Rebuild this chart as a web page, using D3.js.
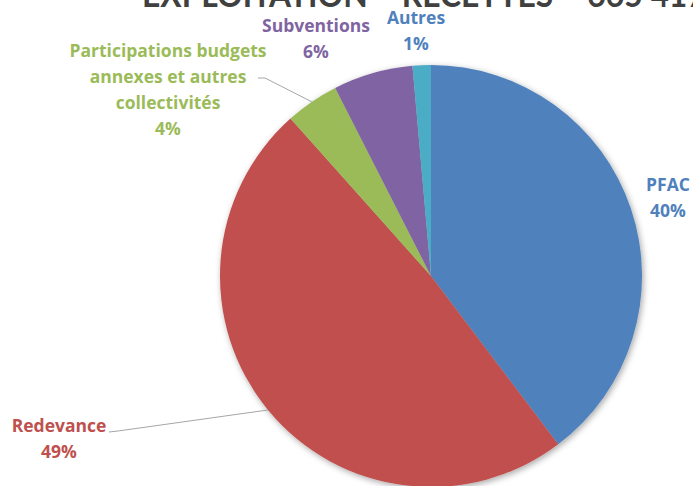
<!DOCTYPE html>
<html><head><meta charset="utf-8">
<script src="https://cdn.jsdelivr.net/npm/d3@7"></script>
<style>html,body{margin:0;padding:0;background:#fff;overflow:hidden}</style>
</head><body>
<svg id="c" width="693" height="486"></svg>
<script>
// ---- data ----
const categories = ["PFAC", "Redevance", "Participations budgets annexes et autres collectivités", "Subventions", "Autres"];
const values = [39.7, 48.7, 4.1, 6.1, 1.4];
const percentLabels = ["40%", "49%", "4%", "6%", "1%"];
const labelLines = [["PFAC"], ["Redevance"], ["Participations budgets", "annexes et autres", "collectivités"], ["Subventions"], ["Autres"]];
const titleText = "EXPLOITATION – RECETTES = 665 417 €";

// ---- style / layout ----
const colors = ["#4F81BD", "#C0504D", "#9BBB59", "#8064A2", "#4BACC6"];
const labelColors = ["#4F81BD", "#C0504D", "#9BBB59", "#8064A2", "#4F81BD"];
const cx = 431, cy = 276, R = 211;
// label centre offsets relative to pie centre (first line centre)
const labelPos = [[237, -91], [-372, 150], [-263, -225], [-115, -250], [-15, -258]];
const lineH = 26;
// leader lines: [elbow offset, end offset] relative to centre, or null
const leaders = [null, [[-313, 155], [-322, 156]], [[-166, -198], [-173, -198]], null, null];
const labelFont = "'Open Sans', 'Noto Sans', sans-serif";

const svg = d3.select("#c");
const defs = svg.append("defs");
const f = defs.append("filter").attr("id", "sh").attr("x", "-10%").attr("y", "-10%").attr("width", "120%").attr("height", "120%");
f.append("feDropShadow").attr("dx", 1.5).attr("dy", 2).attr("stdDeviation", 3).attr("flood-color", "#000").attr("flood-opacity", 0.35);

// title (clipped at top of the frame)
svg.append("text").attr("x", 142).attr("y", 7)
  .attr("font-family", "Lato, 'Open Sans', sans-serif").attr("font-weight", "bold")
  .attr("font-size", 35).attr("fill", "#404040")
  .attr("textLength", 590).attr("lengthAdjust", "spacingAndGlyphs")
  .text(titleText);

const pie = d3.pie().sort(null).value(d => d)(values);
const arc = d3.arc().innerRadius(0).outerRadius(R);
const g = svg.append("g").attr("transform", `translate(${cx},${cy})`);
g.append("g").attr("filter", "url(#sh)")
  .selectAll("path").data(pie).join("path")
  .attr("d", arc).attr("fill", (d, i) => colors[i]);

// leader lines
pie.forEach((d, i) => {
  if (!leaders[i]) return;
  const a = (d.startAngle + d.endAngle) / 2;
  const p0 = [Math.sin(a) * R, -Math.cos(a) * R];
  const pts = [p0, leaders[i][0], leaders[i][1]];
  g.append("path").attr("d", d3.line()(pts)).attr("fill", "none")
    .attr("stroke", "#a6a6a6").attr("stroke-width", 1);
});

// labels
pie.forEach((d, i) => {
  const lines = labelLines[i].concat([percentLabels[i]]);
  const t = g.append("text").attr("text-anchor", "middle")
    .attr("font-family", labelFont).attr("font-weight", "bold")
    .attr("font-size", 17.5).attr("fill", labelColors[i]);
  lines.forEach((s, k) => {
    t.append("tspan").attr("x", labelPos[i][0]).attr("y", labelPos[i][1] + k * lineH)
      .attr("dy", "0.36em").text(s);
  });
});
</script>
</body></html>
